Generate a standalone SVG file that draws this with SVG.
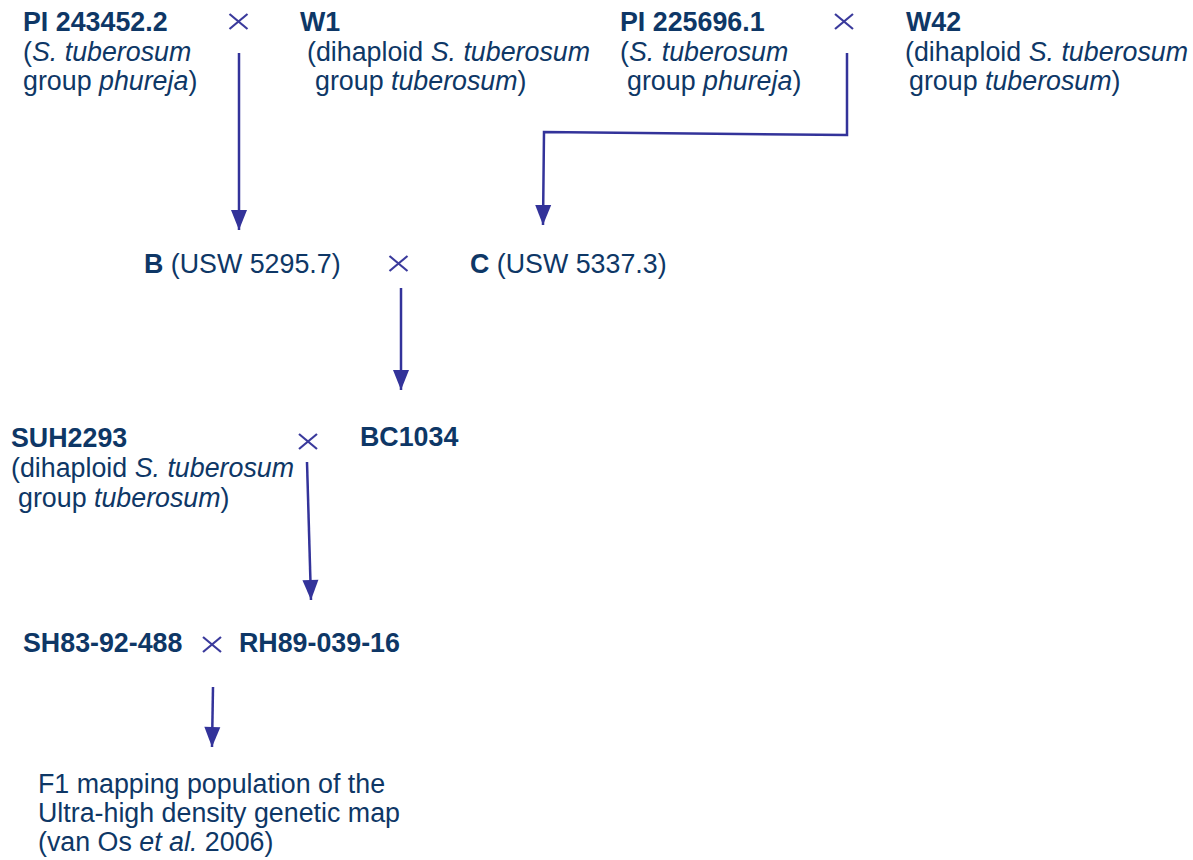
<svg xmlns="http://www.w3.org/2000/svg" width="1193" height="860" viewBox="0 0 1193 860">
<defs>
<style>
text{font-family:"Liberation Sans",Arial,sans-serif;font-size:26.8px;fill:#0e3766}
.b{font-weight:bold}
.i{font-style:italic}
.x line{stroke:#3a3a9c;stroke-width:2.2}
.c{stroke:#33339a;stroke-width:2.5;fill:none}
</style>
<marker id="ah2" markerUnits="userSpaceOnUse" markerWidth="22" markerHeight="18" viewBox="0 0 22 18" refX="21" refY="9" orient="auto">
<path d="M1,1 L21,9 L1,17 Z" fill="#33339a"/>
</marker>
</defs>
<rect width="1193" height="860" fill="#ffffff"/>
<g id="pi243452">
<text x="23" y="31" class="b">PI 243452.2</text>
<text x="23" y="61">(<tspan class="i">S. tuberosum</tspan></text>
<text x="23" y="90">group <tspan class="i">phureja</tspan>)</text>
</g>
<g id="w1">
<text x="300" y="31" class="b">W1</text>
<text x="307" y="61">(dihaploid <tspan class="i">S. tuberosum</tspan></text>
<text x="315" y="90">group <tspan class="i">tuberosum</tspan>)</text>
</g>
<g id="pi225696">
<text x="620" y="31" class="b">PI 225696.1</text>
<text x="620" y="61">(<tspan class="i">S. tuberosum</tspan></text>
<text x="627" y="90">group <tspan class="i">phureja</tspan>)</text>
</g>
<g id="w42">
<text x="906" y="31" class="b">W42</text>
<text x="905" y="61">(dihaploid <tspan class="i">S. tuberosum</tspan></text>
<text x="909" y="90">group <tspan class="i">tuberosum</tspan>)</text>
</g>
<g id="b">
<text x="144" y="273"><tspan class="b">B</tspan> (USW 5295.7)</text>
</g>
<g id="c">
<text x="470" y="273"><tspan class="b">C</tspan> (USW 5337.3)</text>
</g>
<g id="suh2293">
<text x="11" y="447" class="b">SUH2293</text>
<text x="11" y="477">(dihaploid <tspan class="i">S. tuberosum</tspan></text>
<text x="18" y="507">group <tspan class="i">tuberosum</tspan>)</text>
</g>
<g id="bc1034">
<text x="360" y="446" class="b">BC1034</text>
</g>
<g id="sh83">
<text x="23" y="652" class="b">SH83-92-488</text>
</g>
<g id="rh89">
<text x="239" y="652" class="b">RH89-039-16</text>
</g>
<g id="f1">
<text x="38" y="793">F1 mapping population of the</text>
<text x="38" y="822">Ultra-high density genetic map</text>
<text x="38" y="851">(van Os <tspan class="i">et al.</tspan> 2006)</text>
</g>
<g id="crosses" class="x">
<line x1="229.5" y1="14" x2="247.5" y2="29"/><line x1="229.5" y1="29" x2="247.5" y2="14"/>
<line x1="835" y1="14" x2="853" y2="29"/><line x1="835" y1="29" x2="853" y2="14"/>
<line x1="389.5" y1="256" x2="407.5" y2="271"/><line x1="389.5" y1="271" x2="407.5" y2="256"/>
<line x1="299" y1="434" x2="317" y2="449"/><line x1="299" y1="449" x2="317" y2="434"/>
<line x1="203" y1="637" x2="221" y2="652"/><line x1="203" y1="652" x2="221" y2="637"/>
</g>
<g id="connectors">
<path class="c" d="M239,53 L239,230" marker-end="url(#ah2)"/>
<path class="c" d="M847,53 L847,135 L544,132 L543,225" marker-end="url(#ah2)"/>
<path class="c" d="M401,288 L401,390" marker-end="url(#ah2)"/>
<path class="c" d="M307,462 L311,600" marker-end="url(#ah2)"/>
<path class="c" d="M213,687 L212,747" marker-end="url(#ah2)"/>
</g>
</svg>
